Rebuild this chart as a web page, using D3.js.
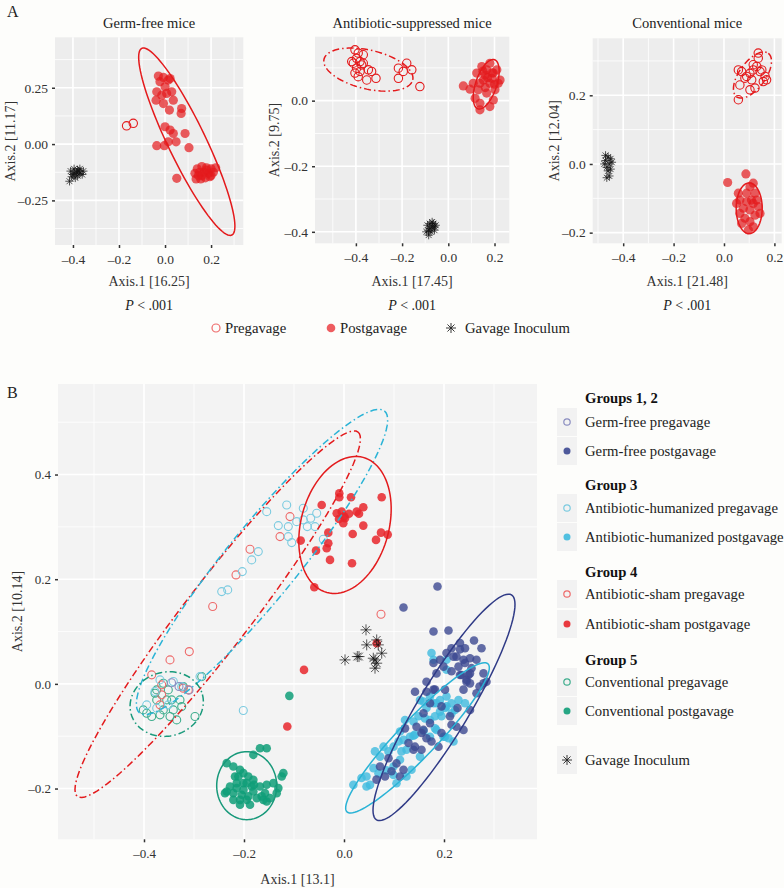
<!DOCTYPE html>
<html><head><meta charset="utf-8">
<script src="https://cdn.jsdelivr.net/npm/d3@7"></script>
<style>
body{margin:0;background:#fdfdfb;}
text{font-family:"Liberation Serif","Times New Roman",serif;fill:#222;}
</style>
</head><body>
<svg id="chart" width="784" height="888"></svg>
<script>
// ---------------- DATA ----------------
const panelTitles = ["Germ-free mice", "Antibiotic-suppressed mice", "Conventional mice"];
const panelXTitles = ["Axis.1 [16.25]", "Axis.1 [17.45]", "Axis.1 [21.48]"];
const panelYTitles = ["Axis.2 [11.17]", "Axis.2 [9.75]", "Axis.2 [12.04]"];
const pLabel = ".001";

const a1XTicks = [-0.4, -0.2, 0.0, 0.2];
const a1YTicks = [0.25, 0.0, -0.25];
const a1YLabels = ["0.25", "0.00", "\u20130.25"];
const a2XTicks = [-0.4, -0.2, 0.0, 0.2];
const a2YTicks = [0.0, -0.2, -0.4];
const a3XTicks = [-0.4, -0.2, 0.0, 0.2];
const a3YTicks = [0.2, 0.0, -0.2];

const a1Pre = [[-0.167,0.081],[-0.138,0.092]];
const a1Post = [[-0.029,0.302],[-0.007,0.296],[0.014,0.284],[-0.022,0.277],[0.022,0.291],[0.0,0.254],[-0.036,0.232],[0.029,0.232],
 [-0.014,0.217],[0.007,0.225],[-0.039,0.195],[0.036,0.195],[-0.007,0.180],[0.019,0.151],[0.072,0.158],[0.070,0.136],
 [0.0,0.077],[0.022,0.062],[0.036,0.047],[0.087,0.047],[-0.036,-0.007],[-0.003,-0.007],[0.014,0.010],[0.048,0.010],
 [0.104,-0.016],[0.051,-0.152],
 [0.14,-0.11],[0.16,-0.10],[0.18,-0.105],[0.20,-0.11],[0.22,-0.105],[0.13,-0.13],[0.15,-0.125],[0.17,-0.125],[0.19,-0.13],
 [0.21,-0.125],[0.135,-0.155],[0.155,-0.155],[0.175,-0.15],[0.195,-0.145],[0.18,-0.115],[0.16,-0.14],[0.145,-0.14],[0.20,-0.14]];
const a1Gavage = [[-0.41,-0.12],[-0.40,-0.135],[-0.395,-0.11],[-0.385,-0.125],[-0.38,-0.14],[-0.375,-0.12],[-0.37,-0.13],
 [-0.36,-0.135],[-0.405,-0.145],[-0.39,-0.15],[-0.37,-0.11],[-0.355,-0.12],[-0.415,-0.165],[-0.38,-0.115],[-0.395,-0.13]];
// ellipse: [cx, cy, ux, uy, vx, vy] in data units (centre + two conjugate semi-axes)
const a1PostEllipse = [0.0945, 0.0105, -0.1955, 0.4145, 0.074, 0.036];

const a2Pre = [[-0.404,0.155],[-0.390,0.145],[-0.397,0.129],[-0.382,0.119],[-0.411,0.114],[-0.368,0.114],[-0.397,0.099],
 [-0.382,0.089],[-0.390,0.073],[-0.368,0.140],[-0.404,0.084],[-0.353,0.063],[-0.332,0.089],[-0.346,0.094],[-0.313,0.068],
 [-0.216,0.099],[-0.180,0.114],[-0.158,0.094],[-0.195,0.089],[-0.216,0.068],[-0.123,0.043],[-0.375,0.109],[-0.418,0.119]];
const a2Post = [[0.065,0.045],[0.094,0.035],[0.130,0.033],[0.116,0.007],[0.137,-0.008],[0.180,-0.018],[0.137,-0.028],
 [0.195,0.002],[0.216,0.053],[0.224,0.063],[0.195,0.084],[0.166,0.094],[0.180,0.114],[0.145,0.104],[0.123,0.084],
 [0.152,0.063],[0.180,0.053],[0.202,0.033],[0.166,0.023],[0.137,0.053],[0.108,0.053],[0.188,0.068],[0.210,0.094],
 [0.159,0.078],[0.17,0.07],[0.19,0.085],[0.16,0.04],[0.20,0.05],[0.15,0.09]];
const a2Gavage = [[-0.09,-0.38],[-0.08,-0.39],[-0.07,-0.37],[-0.06,-0.385],[-0.075,-0.40],[-0.085,-0.395],[-0.065,-0.375],
 [-0.055,-0.38],[-0.095,-0.40],[-0.07,-0.385],[-0.08,-0.375],[-0.06,-0.395],[-0.085,-0.41]];
const a2PreEllipse = [-0.346, 0.0947, 0.192, -0.0316, 0.019, 0.0577];
const a2PostEllipse = [0.164, 0.050, 0.036, 0.0748, 0.043, -0.0103];

const a3Pre = [[0.057,0.274],[0.070,0.269],[0.090,0.255],[0.103,0.264],[0.116,0.274],[0.130,0.284],[0.143,0.269],
 [0.136,0.323],[0.136,0.308],[0.103,0.216],[0.123,0.221],[0.156,0.240],[0.169,0.245],[0.063,0.230],[0.057,0.187],
 [0.083,0.250],[0.110,0.245],[0.150,0.274],[0.116,0.289],[0.163,0.255]];
const a3Post = [[0.0145,-0.054],[0.087,-0.029],[0.116,-0.056],[0.103,-0.066],[0.123,-0.085],[0.090,-0.085],[0.063,-0.105],
 [0.050,-0.115],[0.116,-0.115],[0.136,-0.124],[0.077,-0.129],[0.103,-0.134],[0.063,-0.144],[0.123,-0.149],[0.083,-0.158],
 [0.103,-0.168],[0.070,-0.173],[0.116,-0.183],[0.097,-0.192],[0.130,-0.105],[0.057,-0.085],[0.143,-0.144],[0.090,-0.110],[0.109,-0.105]];
const a3Gavage = [[-0.47,0.01],[-0.46,0.02],[-0.455,0.0],[-0.465,-0.01],[-0.45,0.015],[-0.475,0.0],[-0.46,-0.02],
 [-0.455,-0.035],[-0.445,0.005],[-0.47,0.025],[-0.465,-0.04],[-0.45,-0.015]];
const a3PreEllipse = [0.113, 0.259, 0.0627, 0.0633, 0.042, -0.0225];
const a3PostEllipse = [0.100, -0.129, 0.0, 0.0738, 0.0516, 0.0];

const legendALabels = ["Pregavage", "Postgavage", "Gavage Inoculum"];

const bXTicks = [-0.4, -0.2, 0.0, 0.2];
const bYTicks = [0.4, 0.2, 0.0, -0.2];
const bXTitle = "Axis.1 [13.1]";
const bYTitle = "Axis.2 [10.14]";

const gfPre = [[-0.33,-0.005],[-0.31,-0.012],[-0.345,0.002]];
const gfPost = [[0.187,0.186],[0.119,0.146],[0.209,0.102],
 [0.215,0.068],[0.232,0.066],[0.260,0.083],[0.275,0.068],[0.225,0.052],[0.239,0.046],[0.252,0.049],[0.265,0.046],
 [0.242,0.040],[0.229,0.033],[0.255,0.030],[0.279,0.020],[0.285,0.004],[0.271,-0.005],[0.265,-0.018],[0.252,-0.050],
 [0.227,-0.046],[0.212,-0.062],[0.195,-0.043],[0.182,-0.011],[0.202,-0.011],[0.172,-0.075],[0.159,-0.088],[0.175,-0.110],
 [0.195,-0.094],[0.215,-0.078],[0.225,-0.082],[0.239,-0.088],[0.139,-0.126],[0.155,-0.126],[0.189,-0.120],[0.249,0.017],
 [0.235,0.017],[0.279,0.001],[0.245,0.008],[0.185,0.020],[0.165,-0.015],
 [0.072,-0.158],[0.082,-0.177],[0.065,-0.183],[0.095,-0.167],[0.105,-0.152],[0.119,-0.164],[0.112,-0.177],[0.089,-0.142],
 [0.122,-0.085],[0.145,-0.082],[0.155,-0.094],[0.165,-0.104],[0.142,-0.120],[0.129,-0.113],[0.159,-0.056],[0.172,-0.037],
 [0.179,-0.011],[0.142,-0.015],[0.165,0.004],[0.179,0.040],[0.205,0.059],[0.219,0.052],[0.232,0.078],[0.242,0.068],
 [0.215,0.024],[0.232,0.017],[0.252,0.020],[0.245,0.004],[0.239,-0.011],[0.252,0.001],[0.199,0.033],[0.192,0.046],[0.179,0.100]];
const ahPre = [[-0.2446,0.1763],[-0.2326,0.1796],[-0.2034,0.2145],[-0.1846,0.2369],[-0.1714,0.2527],[-0.1546,0.3291],
 [-0.1146,0.3419],[-0.0814,0.3356],[-0.1314,0.3024],[-0.1114,0.3005],[-0.0946,0.31],[-0.0814,0.3133],[-0.0666,0.3165],
 [-0.0546,0.326],[-0.0734,0.3005],[-0.058,0.3005],[-0.1046,0.2699],[-0.1114,0.2814],[-0.0414,0.2764],
 [-0.2014,-0.051],[-0.3946,-0.0401],[-0.378,-0.0147],[-0.368,0.0076],[-0.3414,0.0044],[-0.3246,-0.0052],[-0.288,0.0139],
 [-0.3514,-0.0401],[-0.3746,-0.0464]];
const ahPost = [[0.0187,-0.193],[0.035,-0.180],[0.052,-0.193],[0.045,-0.177],[0.059,-0.161],[0.072,-0.139],[0.089,-0.129],
 [0.099,-0.120],[0.079,-0.120],[0.109,-0.110],[0.119,-0.107],[0.132,-0.101],[0.112,-0.091],[0.122,-0.069],[0.139,-0.072],
 [0.149,-0.062],[0.162,-0.066],[0.172,-0.069],[0.182,-0.062],[0.192,-0.053],[0.165,-0.046],[0.179,-0.037],[0.192,-0.031],
 [0.205,-0.024],[0.215,-0.037],[0.222,-0.050],[0.202,-0.046],[0.185,-0.088],[0.172,-0.101],[0.112,-0.145],[0.099,-0.158],
 [0.125,-0.177],[0.105,-0.190],[0.135,-0.164],[0.152,-0.139],[0.199,-0.101],[0.209,-0.104],[0.179,0.046],[0.175,0.059],
 [0.205,0.027],[0.069,-0.171],[0.045,-0.196],[0.062,-0.129],[0.139,-0.099],[0.159,-0.090],[0.099,-0.174],[0.085,-0.165],
 [0.115,-0.129],[0.172,-0.024],[0.152,-0.031],[0.205,0.046],[0.185,-0.037],[0.159,-0.034],[0.205,-0.043],[0.229,-0.031],
 [0.242,-0.037],[0.215,-0.056],[0.195,-0.062],[0.182,-0.085],[0.142,-0.097],[0.202,-0.101],[0.219,-0.110],[0.125,-0.126]];
const asPre = [[-0.2626,0.1477],[-0.216,0.2082],[-0.188,0.2573],[-0.108,0.3196],[-0.128,0.2814],[0.074,0.1331],
 [-0.3094,0.0617],[-0.348,0.0458],[-0.3846,0.0172],[-0.3646,-0.0019],[-0.3646,-0.021],[-0.368,-0.0401],[-0.3214,-0.0082],[-0.3114,-0.0115]];
const asPost = [[-0.0094,0.3643],[-0.0094,0.3567],[0.014,0.3567],[-0.0446,0.3419],[-0.0146,0.326],[-0.0046,0.3291],
 [0.002,0.3165],[-0.0014,0.307],[0.0254,0.3291],[0.0386,0.3375],[0.0754,0.3567],[0.0386,0.3024],[-0.0314,0.289],
 [-0.0314,0.2688],[-0.0866,0.2738],[-0.056,0.2546],[-0.0346,0.2592],[-0.028,0.2369],[0.0174,0.2865],[0.016,0.2305],
 [0.064,0.2751],[0.074,0.289],[0.0874,0.2852],[-0.0594,0.1847],[0.0,0.32],[-0.01,0.315],[0.03,0.325],[0.01,0.325],
 [-0.08,0.0267],[-0.1134,-0.0815],[0.0654,0.0777]];
const cvPre = [[-0.4014,-0.0497],[-0.3846,-0.0624],[-0.3746,-0.0306],[-0.378,-0.0178],[-0.3614,0.0013],[-0.3514,-0.0115],
 [-0.3446,-0.0306],[-0.3614,-0.0497],[-0.348,-0.0624],[-0.3346,-0.0688],[-0.328,-0.0306],[-0.3214,-0.0052],[-0.298,-0.0624],
 [-0.2846,0.0139],[-0.3746,-0.0115],[-0.3546,-0.0306],[-0.3414,-0.0497],[-0.3246,-0.0434],[-0.368,-0.0592],[-0.3946,-0.056]];
const cvPost = [[-0.2346,-0.1515],[-0.2213,-0.158],[-0.208,-0.1643],[-0.218,-0.177],[-0.2013,-0.1706],[-0.1913,-0.177],
 [-0.1813,-0.1834],[-0.2146,-0.1897],[-0.2346,-0.2057],[-0.2213,-0.2088],[-0.2046,-0.212],[-0.1946,-0.2216],[-0.1813,-0.2057],
 [-0.168,-0.1962],[-0.1546,-0.1929],[-0.1413,-0.1897],[-0.1313,-0.1992],[-0.158,-0.2088],[-0.1746,-0.2183],[-0.188,-0.2311],
 [-0.208,-0.2311],[-0.2213,-0.2216],[-0.2013,-0.1897],[-0.228,-0.1962],[-0.2146,-0.1992],[-0.1846,-0.1962],[-0.1813,-0.1356],
 [-0.168,-0.1229],[-0.1546,-0.1229],[-0.1213,-0.1706],[-0.1246,-0.177],[-0.238,-0.2088],[-0.1613,-0.2216],[-0.1546,-0.2248],
 [-0.2113,-0.177],[-0.201,-0.2025],[-0.18,-0.1929],[-0.1913,-0.215],[-0.1646,-0.215],[-0.208,-0.2216],[-0.1946,-0.1897],
 [-0.1346,-0.2088],[-0.148,-0.2183],[-0.1093,-0.0229]];
const bGavage = [[0.044,0.1032],[0.0454,0.0745],[0.002,0.0458],[0.0266,0.0522],[0.03,0.0522],[0.0654,0.084],[0.0686,0.0745],
 [0.0754,0.0586],[0.062,0.0458],[0.0654,0.0395],[0.062,0.03],[0.0586,0.049]];

const gfPostEllipse = [0.200, -0.0449, 0.135, 0.2149, 0.044, -0.0252];
const ahPostEllipse = [0.147, -0.1032, 0.141, 0.1414, 0.0276, -0.025];
const asPostEllipse = [0.002, 0.3037, 0.0362, 0.1291, 0.085, -0.0218];
const ahPreEllipse = [-0.164, 0.233, 0.245, 0.2884, 0.056, -0.0434];
const asPreEllipse = [-0.2526, 0.1331, 0.2806, 0.3482, 0.0524, -0.0384];
const cvPreEllipse = [-0.3546, -0.0386, 0.0714, 0.0183, 0.0166, -0.059];
const cvPostEllipse = [-0.1946, -0.1945, 0.0, 0.065, 0.06, 0.0];

const legendBGroups = ["Groups 1, 2", "Group 3", "Group 4", "Group 5"];
const legendBItems = [["Germ-free pregavage", "Germ-free postgavage"],
 ["Antibiotic-humanized pregavage", "Antibiotic-humanized postgavage"],
 ["Antibiotic-sham pregavage", "Antibiotic-sham postgavage"],
 ["Conventional pregavage", "Conventional postgavage"]];
const legendBGavage = "Gavage Inoculum";

// ---------------- STYLE ----------------
const RED = "#e41a1c";
const colNavy = "#3c4891", colNavyLine = "#2f3a86", colNavyPre = "#8a8dc0";
const colCyan = "#3fbade", colCyanLine = "#2ab3d6", colCyanPre = "#7ccbe0";
const colRed = "#e8262b", colRedLine = "#e31a1c", colRedPre = "#ee6a6a";
const colGreen = "#0f9d78", colGreenLine = "#17997a", colGreenPre = "#3fae8e";
const DASHDOT = "7,3,1.5,3";
const fmt = v => (v < 0 ? "\u2013" : "") + d3.format(".1f")(Math.abs(v));

const svg = d3.select("#chart");
svg.append("rect").attr("width",784).attr("height",888).attr("fill","#fdfdfb");

function starPath(r){
  let d="";
  for(let k=0;k<4;k++){const a=k*Math.PI/4;const dx=r*Math.cos(a),dy=r*Math.sin(a);
    d+=`M${-dx},${-dy}L${dx},${dy}`;}
  return d;
}

function makePanel(cfg){
  const g = svg.append("g");
  const x = d3.scaleLinear().domain(cfg.xd).range([cfg.l, cfg.r]);
  const y = d3.scaleLinear().domain(cfg.yd).range([cfg.b, cfg.t]);
  g.append("rect").attr("x",cfg.l).attr("y",cfg.t).attr("width",cfg.r-cfg.l).attr("height",cfg.b-cfg.t).attr("fill",cfg.bg);
  const grid = g.append("g");
  cfg.xMinor.forEach(v=>grid.append("line").attr("x1",x(v)).attr("x2",x(v)).attr("y1",cfg.t).attr("y2",cfg.b).attr("stroke","#fff").attr("stroke-width",0.8));
  cfg.yMinor.forEach(v=>grid.append("line").attr("y1",y(v)).attr("y2",y(v)).attr("x1",cfg.l).attr("x2",cfg.r).attr("stroke","#fff").attr("stroke-width",0.8));
  cfg.xTicks.forEach(v=>grid.append("line").attr("x1",x(v)).attr("x2",x(v)).attr("y1",cfg.t).attr("y2",cfg.b).attr("stroke","#fff").attr("stroke-width",1.6));
  cfg.yTicks.forEach(v=>grid.append("line").attr("y1",y(v)).attr("y2",y(v)).attr("x1",cfg.l).attr("x2",cfg.r).attr("stroke","#fff").attr("stroke-width",1.6));
  const xa = d3.axisBottom(x).tickValues(cfg.xTicks).tickFormat(fmt).tickSize(3).tickPadding(6);
  const ya = d3.axisLeft(y).tickValues(cfg.yTicks).tickFormat((d,i)=>cfg.yLabels? cfg.yLabels[i] : fmt(d)).tickSize(3).tickPadding(4);
  const gx = g.append("g").attr("transform",`translate(0,${cfg.b})`).call(xa);
  const gy = g.append("g").attr("transform",`translate(${cfg.l},0)`).call(ya);
  [gx,gy].forEach(a=>{a.select(".domain").remove();
    a.selectAll("line").attr("stroke","#333").attr("stroke-width",1.5);
    a.selectAll("text").attr("font-size",cfg.tickFs).style("fill","#333");});
  return {g,x,y};
}

function drawEllipse(p, e, color, dash){
  const pts = d3.range(0,101).map(i=>{const t=i/100*2*Math.PI;
    return [e[0]+e[2]*Math.cos(t)+e[4]*Math.sin(t), e[1]+e[3]*Math.cos(t)+e[5]*Math.sin(t)];});
  const line = d3.line().x(d=>p.x(d[0])).y(d=>p.y(d[1])).curve(d3.curveLinearClosed);
  p.g.append("path").attr("d",line(pts)).attr("fill","none").attr("stroke",color).attr("stroke-width",1.5)
    .attr("stroke-dasharray",dash||null);
}
function drawOpen(p,data,color,r){
  p.g.append("g").selectAll("circle").data(data).join("circle")
   .attr("cx",d=>p.x(d[0])).attr("cy",d=>p.y(d[1])).attr("r",r).attr("fill","none").attr("stroke",color).attr("stroke-width",1.1);
}
function drawFilled(p,data,color,r,op){
  p.g.append("g").selectAll("circle").data(data).join("circle")
   .attr("cx",d=>p.x(d[0])).attr("cy",d=>p.y(d[1])).attr("r",r).attr("fill",color).attr("fill-opacity",op);
}
function drawStars(p,data,r){
  p.g.append("g").selectAll("path").data(data).join("path")
   .attr("transform",d=>`translate(${p.x(d[0])},${p.y(d[1])})`).attr("d",starPath(r))
   .attr("stroke","#111").attr("stroke-width",0.7).attr("fill","none");
}

// ---------------- PANEL A ----------------
svg.append("text").attr("x",7).attr("y",17).attr("font-size",16).text("A");
const aCfgs = [
 {l:55,r:243.3,t:37.3,b:245,xd:[-0.478,0.340],yd:[-0.448,0.474],xTicks:a1XTicks,yTicks:a1YTicks,yLabels:a1YLabels,
  xMinor:[-0.3,-0.1,0.1,0.3],yMinor:[0.375,0.125,-0.125,-0.375],ytx:10},
 {l:315,r:509.3,t:36.7,b:243.3,xd:[-0.577,0.264],yd:[-0.435,0.195],xTicks:a2XTicks,yTicks:a2YTicks,
  xMinor:[-0.5,-0.3,-0.1,0.1],yMinor:[0.1,-0.1,-0.3],ytx:274},
 {l:592.7,r:781.7,t:38.3,b:243.3,xd:[-0.521,0.229],yd:[-0.231,0.366],xTicks:a3XTicks,yTicks:a3YTicks,
  xMinor:[-0.5,-0.3,-0.1,0.1],yMinor:[0.3,0.1,-0.1],ytx:554}
];
const aPre=[a1Pre,a2Pre,a3Pre], aPost=[a1Post,a2Post,a3Post], aGav=[a1Gavage,a2Gavage,a3Gavage];
const aPreE=[null,a2PreEllipse,a3PreEllipse], aPostE=[a1PostEllipse,a2PostEllipse,a3PostEllipse];
aCfgs.forEach((c,i)=>{
  c.bg="#ededed"; c.tickFs=13.5;
  const p = makePanel(c);
  drawStars(p,aGav[i],4.2);
  drawOpen(p,aPre[i],RED,4.2);
  drawFilled(p,aPost[i],RED,4.6,0.7);
  if(aPreE[i]) drawEllipse(p,aPreE[i],RED,DASHDOT);
  drawEllipse(p,aPostE[i],RED,null);
  const cx=(c.l+c.r)/2;
  svg.append("text").attr("x",cx).attr("y",28).attr("text-anchor","middle").attr("font-size",14.5).text(panelTitles[i]);
  svg.append("text").attr("x",cx).attr("y",286).attr("text-anchor","middle").attr("font-size",14).style("fill","#333").text(panelXTitles[i]);
  svg.append("text").attr("transform",`translate(${c.ytx+5},${(c.t+c.b)/2}) rotate(-90)`).attr("text-anchor","middle").attr("font-size",14).style("fill","#333").text(panelYTitles[i]);
  const pt = svg.append("text").attr("x",cx).attr("y",310).attr("text-anchor","middle").attr("font-size",14);
  pt.append("tspan").attr("font-style","italic").text("P");
  pt.append("tspan").text(" < "+pLabel);
});
{
  const ly=328;
  svg.append("circle").attr("cx",216).attr("cy",ly).attr("r",4).attr("fill","none").attr("stroke",colRedPre).attr("stroke-width",1.2);
  svg.append("text").attr("x",225).attr("y",ly+5).attr("font-size",14.7).text(legendALabels[0]);
  svg.append("circle").attr("cx",331).attr("cy",ly).attr("r",4.3).attr("fill",colRed).attr("fill-opacity",0.75);
  svg.append("text").attr("x",340).attr("y",ly+5).attr("font-size",14.7).text(legendALabels[1]);
  svg.append("path").attr("transform",`translate(451,${ly})`).attr("d",starPath(5)).attr("stroke","#222").attr("stroke-width",0.9);
  svg.append("text").attr("x",465).attr("y",ly+5).attr("font-size",14.7).text(legendALabels[2]);
}

// ---------------- PANEL B ----------------
svg.append("text").attr("x",7).attr("y",398).attr("font-size",16).text("B");
const pb = makePanel({l:58,r:537,t:384,b:839.3,xd:[-0.572,0.386],yd:[-0.297,0.573],xTicks:bXTicks,yTicks:bYTicks,
  xMinor:[-0.5,-0.3,-0.1,0.1,0.3],yMinor:[0.5,0.3,0.1,-0.1],bg:"#f3f3f3",tickFs:13});
drawOpen(pb,cvPre,colGreenPre,4);
drawOpen(pb,asPre,colRedPre,4);
drawOpen(pb,ahPre,colCyanPre,4);
drawOpen(pb,gfPre,colNavyPre,4);
drawFilled(pb,ahPost,colCyan,4.3,0.8);
drawFilled(pb,gfPost,colNavy,4.3,0.8);
drawFilled(pb,asPost,colRed,4.3,0.85);
drawFilled(pb,cvPost,colGreen,4.3,0.85);
drawStars(pb,bGavage,5.5);
drawEllipse(pb,asPreEllipse,colRedLine,DASHDOT);
drawEllipse(pb,ahPreEllipse,colCyanLine,DASHDOT);
drawEllipse(pb,cvPreEllipse,colGreenLine,DASHDOT);
drawEllipse(pb,asPostEllipse,colRedLine,null);
drawEllipse(pb,cvPostEllipse,colGreenLine,null);
drawEllipse(pb,ahPostEllipse,colCyanLine,null);
drawEllipse(pb,gfPostEllipse,colNavyLine,null);
svg.append("text").attr("x",297.5).attr("y",884).attr("text-anchor","middle").attr("font-size",14).style("fill","#333").text(bXTitle);
svg.append("text").attr("transform",`translate(22,611.5) rotate(-90)`).attr("text-anchor","middle").attr("font-size",14).style("fill","#333").text(bYTitle);

{
  const titleY=[398,485,572,660];
  const itemY=[[422,451],[508,537],[594,624],[682,711]];
  const preCols=[colNavyPre,colCyanPre,colRedPre,colGreenPre];
  const postCols=[colNavy,colCyan,colRed,colGreen];
  legendBGroups.forEach((gname,i)=>{
    svg.append("text").attr("x",585).attr("y",titleY[i]+5).attr("font-size",14.7).attr("font-weight","bold").style("fill","#111").text(gname);
    itemY[i].forEach((yy,j)=>{
      svg.append("rect").attr("x",557).attr("y",yy-14).attr("width",20).attr("height",28).attr("fill","#f2f2f2");
      if(j===0) svg.append("circle").attr("cx",567).attr("cy",yy).attr("r",3.2).attr("fill","none").attr("stroke",preCols[i]).attr("stroke-width",1.2);
      else svg.append("circle").attr("cx",567).attr("cy",yy).attr("r",3.5).attr("fill",postCols[i]).attr("fill-opacity",0.9);
      svg.append("text").attr("x",585).attr("y",yy+5).attr("font-size",14.7).text(legendBItems[i][j]);
    });
  });
  const gy=760;
  svg.append("rect").attr("x",557).attr("y",gy-14).attr("width",20).attr("height",28).attr("fill","#f2f2f2");
  svg.append("path").attr("transform",`translate(567,${gy})`).attr("d",starPath(5)).attr("stroke","#222").attr("stroke-width",0.9);
  svg.append("text").attr("x",585).attr("y",gy+5).attr("font-size",14.7).text(legendBGavage);
}
</script>
</body></html>
